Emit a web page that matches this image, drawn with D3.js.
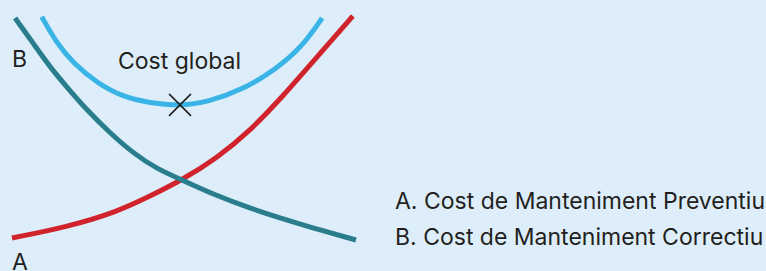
<!DOCTYPE html>
<html>
<head>
<meta charset="utf-8">
<script src="https://cdn.jsdelivr.net/npm/d3@7"></script>
<style>
  html, body { margin: 0; padding: 0; background: #ddeefa; }
  svg { display: block; }
  text { font-family: Inter, "Liberation Sans", Arial, sans-serif; fill: #231f20; }
</style>
</head>
<body>
<svg id="chart" width="766" height="271"></svg>
<script>
// curve A: cost of preventive maintenance (rising)
const costA = [[0, 0.09], [1.59, 0.58], [3.04, 1.25], [4.0, 1.96], [4.93, 2.68], [5.94, 3.66],
    [6.9, 4.87], [7.86, 6.43], [8.84, 8.17], [9.88, 10]];
// curve B: cost of corrective maintenance (falling)
const costB = [[0.09, 9.91], [0.61, 8.79], [1.1, 7.72], [1.59, 6.83], [2.17, 5.8], [2.84, 4.78],
    [3.51, 3.88], [4.2, 3.17], [4.93, 2.68], [5.88, 2.01], [6.81, 1.47], [7.77, 0.98], [8.72, 0.54], [9.97, 0]];
// global cost curve
const costGlobal = [[0.86, 9.97], [1.3, 8.78], [1.77, 7.9], [2.46, 7.01], [3.22, 6.38], [4.0, 6.12],
    [4.87, 5.98], [5.68, 6.16], [6.67, 6.7], [7.62, 7.59], [8.41, 8.62], [8.99, 9.91]];
const optimum = [4.87, 6.03];

const legendLabels = ['A. Cost de Manteniment Preventiu', 'B. Cost de Manteniment Correctiu'];

const svg = d3.select('#chart');
const x = d3.scaleLinear().domain([0, 10]).range([12, 357]);
const y = d3.scaleLinear().domain([0, 10]).range([240, 16]);

const line = d3.line()
    .x(d => x(d[0]))
    .y(d => y(d[1]))
    .curve(d3.curveBasis);

const series = [
    { data: costGlobal, color: '#3ab4e6' },
    { data: costA, color: '#d0232b' },
    { data: costB, color: '#2a7d8c' }
];

svg.selectAll('path.curve').data(series).join('path')
    .attr('class', 'curve')
    .attr('d', d => line(d.data))
    .attr('fill', 'none')
    .attr('stroke', d => d.color)
    .attr('stroke-width', 5);

// optimum cross marker
const cx = x(optimum[0]), cy = y(optimum[1]), s = 11;
svg.append('path')
    .attr('d', `M${cx - s},${cy - s}L${cx + s},${cy + s}M${cx - s},${cy + s}L${cx + s},${cy - s}`)
    .attr('stroke', '#231f20')
    .attr('stroke-width', 1.6)
    .attr('fill', 'none');

svg.append('text').attr('x', 118).attr('y', 69).attr('font-size', 23).text('Cost global');
svg.append('text').attr('x', 12).attr('y', 67).attr('font-size', 23).text('B');
svg.append('text').attr('x', 12).attr('y', 270).attr('font-size', 23).text('A');

svg.selectAll('text.legend').data(legendLabels).join('text')
    .attr('class', 'legend')
    .attr('x', 395)
    .attr('y', (d, i) => 209 + i * 36)
    .attr('font-size', 23)
    .text(d => d);
</script>
</body>
</html>
